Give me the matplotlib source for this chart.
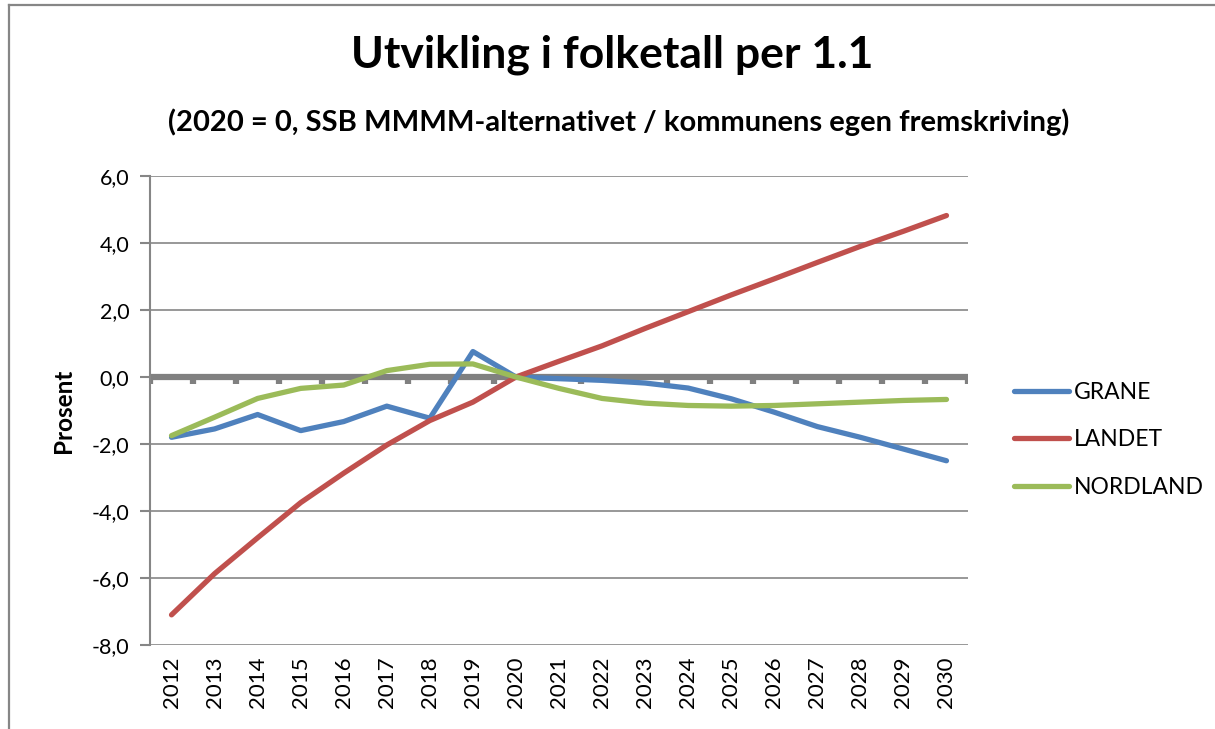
import matplotlib
matplotlib.use("Agg")
import matplotlib.pyplot as plt
from matplotlib.lines import Line2D
from matplotlib.ticker import FuncFormatter

# Data
years = [str(y) for y in range(2012, 2031)]
grane = [-1.80, -1.55, -1.12, -1.60, -1.33, -0.87, -1.23, 0.76, 0.0, -0.05,
         -0.10, -0.18, -0.33, -0.65, -1.05, -1.48, -1.80, -2.15, -2.50]
landet = [-7.10, -5.87, -4.80, -3.75, -2.87, -2.03, -1.30, -0.75, 0.0, 0.47,
          0.93, 1.45, 1.95, 2.45, 2.93, 3.42, 3.90, 4.35, 4.82]
nordland = [-1.75, -1.20, -0.64, -0.34, -0.24, 0.19, 0.38, 0.39, 0.0, -0.34,
            -0.64, -0.78, -0.85, -0.87, -0.85, -0.80, -0.75, -0.70, -0.67]
yticks = [-8, -6, -4, -2, 0, 2, 4, 6]

plt.rcParams['font.family'] = ['Lato', 'DejaVu Sans']
grey = '#868686'

W, H = 1215, 729
fig = plt.figure(figsize=(12.15, 7.29), dpi=100)
ax = fig.add_axes([150 / W, 1 - 645 / H, 818 / W, 469 / H])

x = list(range(len(years)))
ax.plot(x, grane, color='#4F81BD', lw=3.8, label='GRANE', solid_capstyle='round', solid_joinstyle='round', zorder=3)
ax.plot(x, landet, color='#C0504D', lw=3.8, label='LANDET', solid_capstyle='round', solid_joinstyle='round', zorder=3)
ax.plot(x, nordland, color='#9BBB59', lw=3.8, label='NORDLAND', solid_capstyle='round', solid_joinstyle='round', zorder=3)

ax.set_xlim(-0.5, len(years) - 0.5)
ax.set_ylim(-8, 6)
ax.set_yticks(yticks)
ax.yaxis.set_major_formatter(FuncFormatter(lambda v, p: f"{v:.1f}".replace('.', ',')))
ax.grid(axis='y', color=grey, lw=1.2)
ax.set_axisbelow(True)

for s in ['top', 'right', 'bottom']:
    ax.spines[s].set_visible(False)
ax.spines['left'].set_color(grey)
ax.spines['left'].set_linewidth(1.5)
ax.tick_params(axis='y', colors=grey, length=7, width=1.5, labelsize=15.5, labelcolor='black', pad=8)

ax.set_xticks(x)
ax.set_xticklabels(years, rotation=90)
ax.tick_params(axis='x', length=0, labelsize=16, pad=8)

# category axis crossing at zero, with tick marks between categories
ax.axhline(0, color='#808080', lw=4.5, zorder=2)
ax.vlines([i - 0.5 for i in range(len(years) + 1)], -0.22, 0, color='#808080', lw=4.5, zorder=2)

ax.set_ylabel('Prosent', fontsize=17.5, fontweight='bold', labelpad=12)

fig.text(612 / W, 1 - 55 / H, 'Utvikling i folketall per 1.1',
         ha='center', va='center', fontsize=32, fontweight='bold')
fig.text(619 / W, 1 - 122 / H, '(2020 = 0, SSB MMMM-alternativet / kommunens egen fremskriving)',
         ha='center', va='center', fontsize=21, fontweight='bold')

fig.legend(loc='center left', bbox_to_anchor=(1003 / W, 1 - 440 / H), frameon=False,
           fontsize=16.5, handlelength=2.4, handletextpad=0.2, labelspacing=1.15, borderpad=0)

# outer border of the chart frame
fig.add_artist(Line2D([9 / W, 1], [1 - 5 / H, 1 - 5 / H], transform=fig.transFigure, color=grey, lw=1.6))
fig.add_artist(Line2D([9 / W, 9 / W], [0, 1 - 5 / H], transform=fig.transFigure, color=grey, lw=1.6))

fig.savefig('out.png', dpi=100)
